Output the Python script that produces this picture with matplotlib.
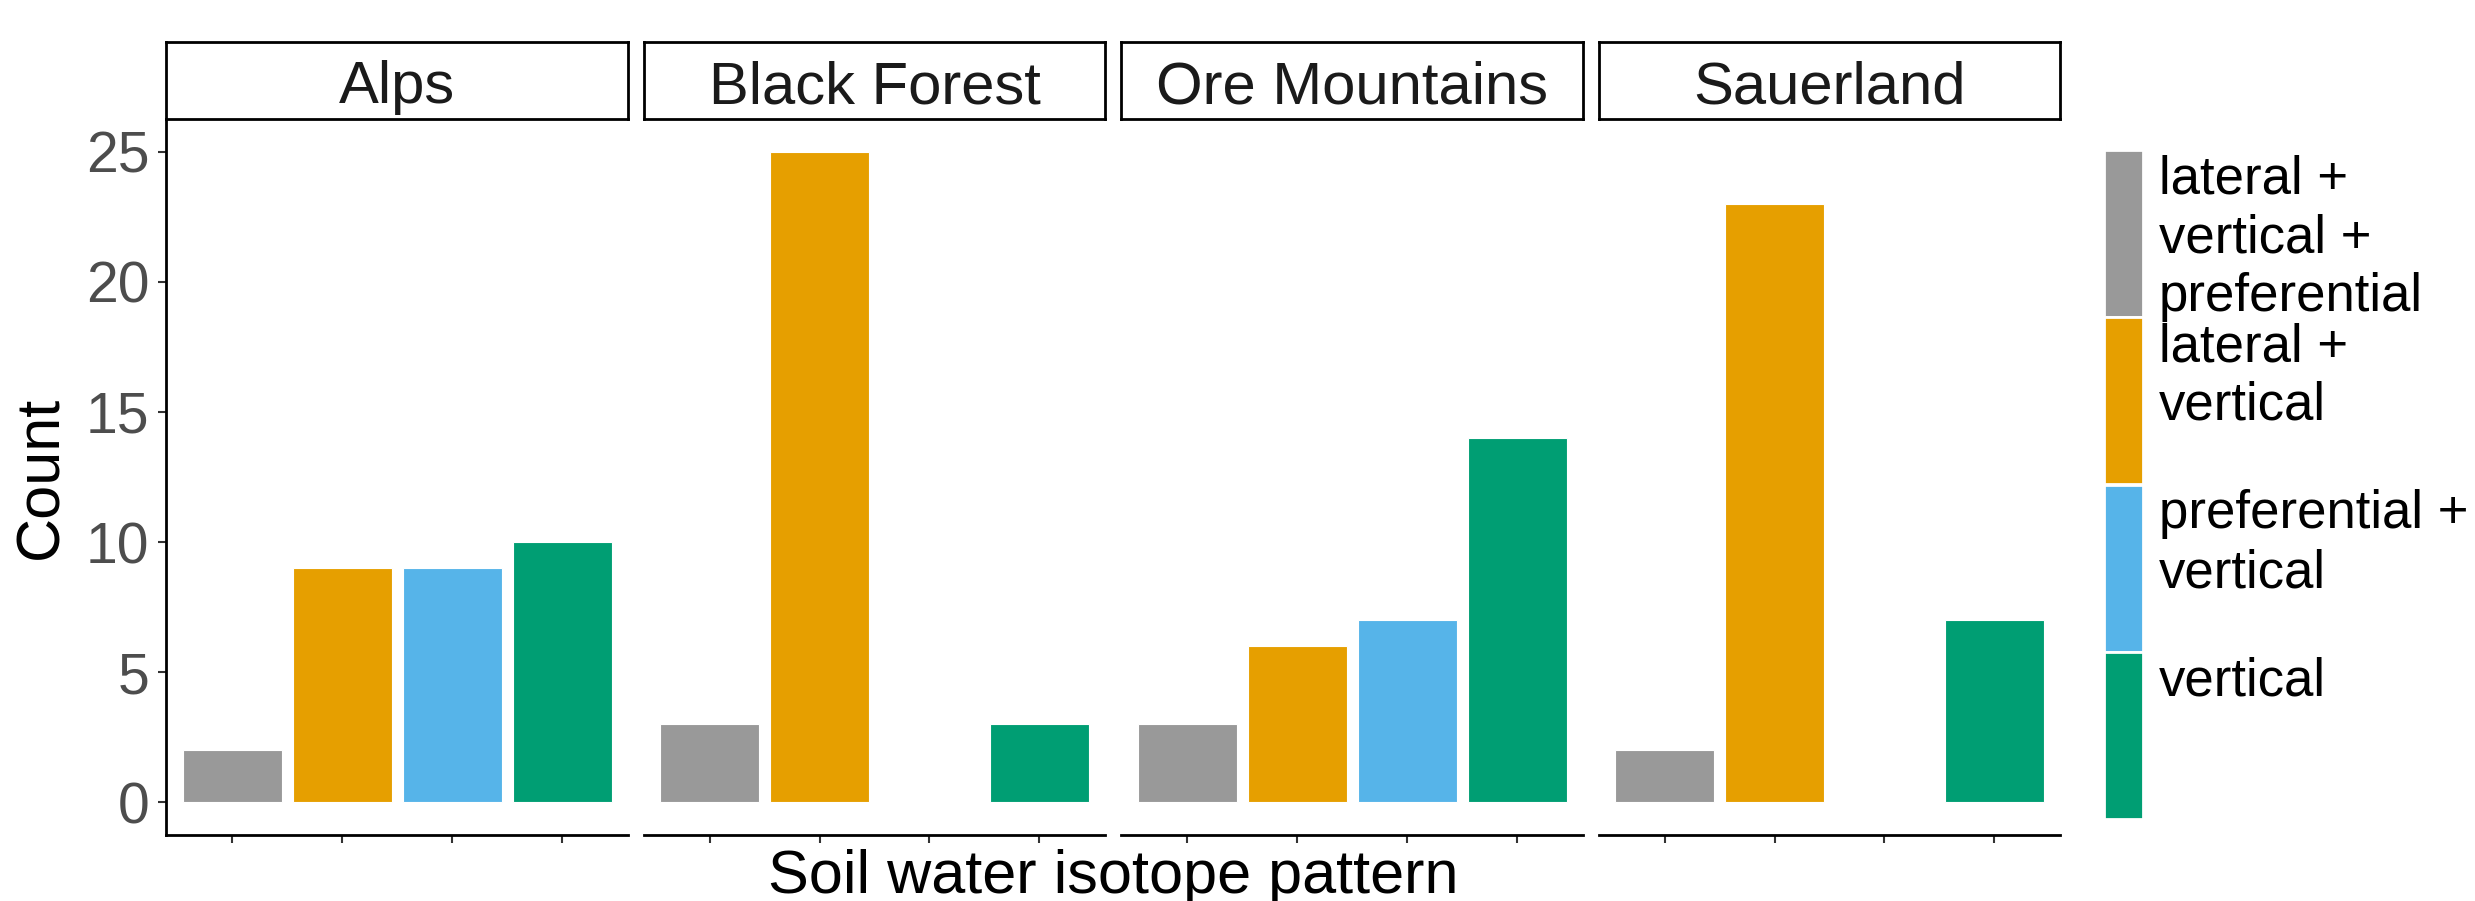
import numpy as np
import matplotlib
matplotlib.use("Agg")
import matplotlib.pyplot as plt

plt.rcParams['font.family'] = ['Liberation Sans', 'DejaVu Sans']

# data
regions = ["Alps", "Black Forest", "Ore Mountains", "Sauerland"]
patterns = ["lateral +\nvertical +\npreferential", "lateral +\nvertical",
            "preferential +\nvertical", "vertical"]
colors = ["#999999", "#E69F00", "#56B4E9", "#009E73"]
alps = [2, 9, 9, 10]
black_forest = [3, 25, 0, 3]
ore_mountains = [3, 6, 7, 14]
sauerland = [2, 23, 0, 7]
counts = [alps, black_forest, ore_mountains, sauerland]
yticks = [0, 5, 10, 15, 20, 25]

W, H = 2475, 901
fig = plt.figure(figsize=(W / 100, H / 100), dpi=100)


def px(x0, y0, x1, y1):
    # pixel box (top-left origin) -> figure fraction rect
    return [x0 / W, 1 - y1 / H, (x1 - x0) / W, (y1 - y0) / H]


panel_x = [(166, 628), (644, 1105), (1121, 1583), (1599, 2060)]
x = np.arange(1, len(patterns) + 1)

for i, (region, vals) in enumerate(zip(regions, counts)):
    x0, x1 = panel_x[i]
    ax = fig.add_axes(px(x0, 119, x1, 835))
    vals = np.array(vals)
    keep = vals > 0
    ax.bar(x[keep], vals[keep], width=0.9, color=np.array(colors)[keep],
           edgecolor='white', linewidth=0.8)
    ax.set_xlim(0.4, 4.6)
    ax.set_ylim(-1.25, 26.25)
    ax.set_xticks(x)
    ax.set_xticklabels([])
    ax.tick_params(axis='x', length=6, width=1.5, color='#333333')
    ax.spines['top'].set_visible(False)
    ax.spines['right'].set_visible(False)
    ax.spines['bottom'].set_linewidth(2)
    if i == 0:
        ax.spines['left'].set_linewidth(2)
        ax.set_yticks(yticks)
        ax.tick_params(axis='y', length=6, width=1.5, color='#333333',
                       labelsize=41, labelcolor='#4D4D4D', pad=6)
    else:
        ax.spines['left'].set_visible(False)
        ax.set_yticks([])

    # facet strip
    sx = fig.add_axes(px(x0, 42, x1, 119))
    sx.set_xticks([])
    sx.set_yticks([])
    for s in sx.spines.values():
        s.set_linewidth(2)
    sx.text(0.5, 16 / 77, region, ha='center', va='baseline', fontsize=43,
            color='#1A1A1A', transform=sx.transAxes)

fig.text(1113 / W, 1 - 893 / H, "Soil water isotope pattern", ha='center',
         va='baseline', fontsize=44)
fig.text(42 / W, 1 - 477 / H, "Count", ha='center', va='center',
         rotation=90, fontsize=44)

# legend: colour keys stacked vertically
lg = fig.add_axes(px(2104, 150, 2143, 819))
n = len(patterns)
tops = np.arange(n, 0, -1)
lg.bar(np.zeros(n), np.ones(n), bottom=tops - 1, width=1, color=colors,
       edgecolor='white', linewidth=2)
lg.set_xlim(-0.5, 0.5)
lg.set_ylim(0, n)
lg.axis('off')
for lab, t in zip(patterns, tops):
    lg.annotate(lab, xy=(0.5, t), xycoords='data', xytext=(16, -5),
                textcoords='offset pixels', ha='left', va='top',
                fontsize=38, linespacing=1.22)

fig.savefig("out.png", dpi=100)
